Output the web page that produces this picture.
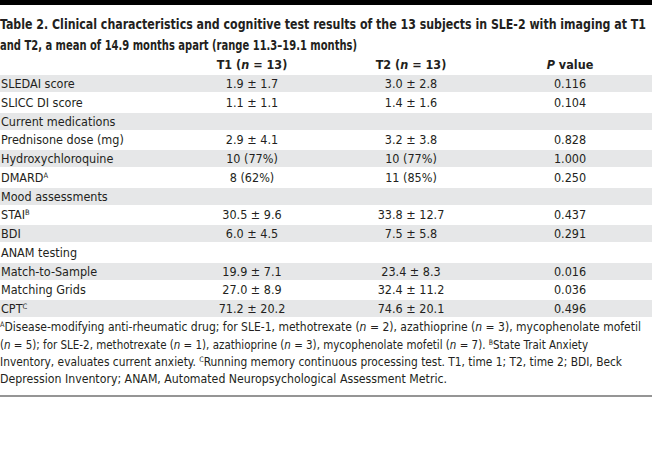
<!DOCTYPE html>
<html lang="en">
<head>
<meta charset="UTF-8">
<title>Table 2</title>
<script src="https://cdn.jsdelivr.net/npm/chart.js"></script>
<style>
  body { margin: 0; width: 652px; height: 461px; background: #fff; color: #231f20;
         font-family: "DejaVu Sans Condensed", "Liberation Sans Narrow", sans-serif; overflow: hidden; position: relative; }
  .bar { height: 5px; background: #000; }
  .title { font-weight: bold; font-size: 14px; line-height: 21px; padding-top: 9px; height: 41px; }
  .line { white-space: nowrap; transform-origin: 0 50%; display: block; width: max-content; }
  #table { padding-top: 1px; }
  .row { position: relative; height: 17px; margin-bottom: 1.75px; font-size: 12.5px; line-height: 17px; }
  .row.gray { background: #e6e7e8; }
  .cell { position: absolute; top: 0; width: 150px; text-align: center; white-space: nowrap; }
  .lab { position: absolute; left: 1px; top: 0; white-space: nowrap; }
  .head { font-weight: bold; font-size: 12.5px; }
  sup { font-size: 7.5px; line-height: 0; vertical-align: 0; position: relative; top: -4px; }
  .notes { font-size: 12.5px; line-height: 17.5px; margin-top: -0.5px; }
  .notes .line { height: 17.4px; }
  .rule { position: absolute; left: 0; top: 395px; width: 652px; height: 2px; background: #959595; }
</style>
</head>
<body>
<div class="bar"></div>
<div class="title">
  <span class="line" data-w="646">Table 2. Clinical characteristics and cognitive test results of the 13 subjects in SLE-2 with imaging at T1</span>
  <span class="line" data-w="357">and T2, a mean of 14.9 months apart (range 11.3–19.1 months)</span>
</div>
<div id="table"></div>
<div class="notes">
  <span class="line" data-w="641"><sup>A</sup>Disease-modifying anti-rheumatic drug; for SLE-1, methotrexate (<i>n</i> = 2), azathioprine (<i>n</i> = 3), mycophenolate mofetil</span>
  <span class="line" data-w="588">(<i>n</i> = 5); for SLE-2, methotrexate (<i>n</i> = 1), azathioprine (<i>n</i> = 3), mycophenolate mofetil (<i>n</i> = 7). <sup>B</sup>State Trait Anxiety</span>
  <span class="line" data-w="622">Inventory, evaluates current anxiety. <sup>C</sup>Running memory continuous processing test. T1, time 1; T2, time 2; BDI, Beck</span>
  <span class="line" data-w="447">Depression Inventory; ANAM, Automated Neuropsychological Assessment Metric.</span>
</div>
<div class="rule"></div>
<script>
  // table content
  const headers = ['T1 (<i>n</i> = 13)', 'T2 (<i>n</i> = 13)', '<i>P</i> value'];
  const rowLabels = ['SLEDAI score', 'SLICC DI score', 'Current medications', 'Prednisone dose (mg)',
    'Hydroxychloroquine', 'DMARD', 'Mood assessments', 'STAI', 'BDI', 'ANAM testing',
    'Match-to-Sample', 'Matching Grids', 'CPT'];
  const rowNotes = ['', '', '', '', '', 'A', '', 'B', '', '', '', '', 'C'];
  const t1Values = ['1.9 ± 1.7', '1.1 ± 1.1', '', '2.9 ± 4.1', '10 (77%)', '8 (62%)', '',
    '30.5 ± 9.6', '6.0 ± 4.5', '', '19.9 ± 7.1', '27.0 ± 8.9', '71.2 ± 20.2'];
  const t2Values = ['3.0 ± 2.8', '1.4 ± 1.6', '', '3.2 ± 3.8', '10 (77%)', '11 (85%)', '',
    '33.8 ± 12.7', '7.5 ± 5.8', '', '23.4 ± 8.3', '32.4 ± 11.2', '74.6 ± 20.1'];
  const pValues = ['0.116', '0.104', '', '0.828', '1.000', '0.250', '',
    '0.437', '0.291', '', '0.016', '0.036', '0.496'];

  const colCenters = [252, 411, 570];

  function cell(html, i) {
    return `<div class="cell" style="left:${colCenters[i] - 75}px">${html}</div>`;
  }

  let html = '<div class="row head" style="margin-bottom:2px">' +
    headers.map((h, i) => cell(h, i)).join('') + '</div>';
  rowLabels.forEach((lab, r) => {
    const note = rowNotes[r] ? `<sup>${rowNotes[r]}</sup>` : '';
    html += `<div class="row${r % 2 === 0 ? ' gray' : ''}">` +
      `<div class="lab">${lab}${note}</div>` +
      cell(t1Values[r], 0) + cell(t2Values[r], 1) + cell(pValues[r], 2) + '</div>';
  });
  document.getElementById('table').innerHTML = html;

  // squeeze long lines to the widths they have in the print
  document.querySelectorAll('.line').forEach(el => {
    const w = el.getBoundingClientRect().width;
    const target = +el.dataset.w;
    el.style.transform = `scaleX(${target / w})`;
  });
</script>
</body>
</html>
